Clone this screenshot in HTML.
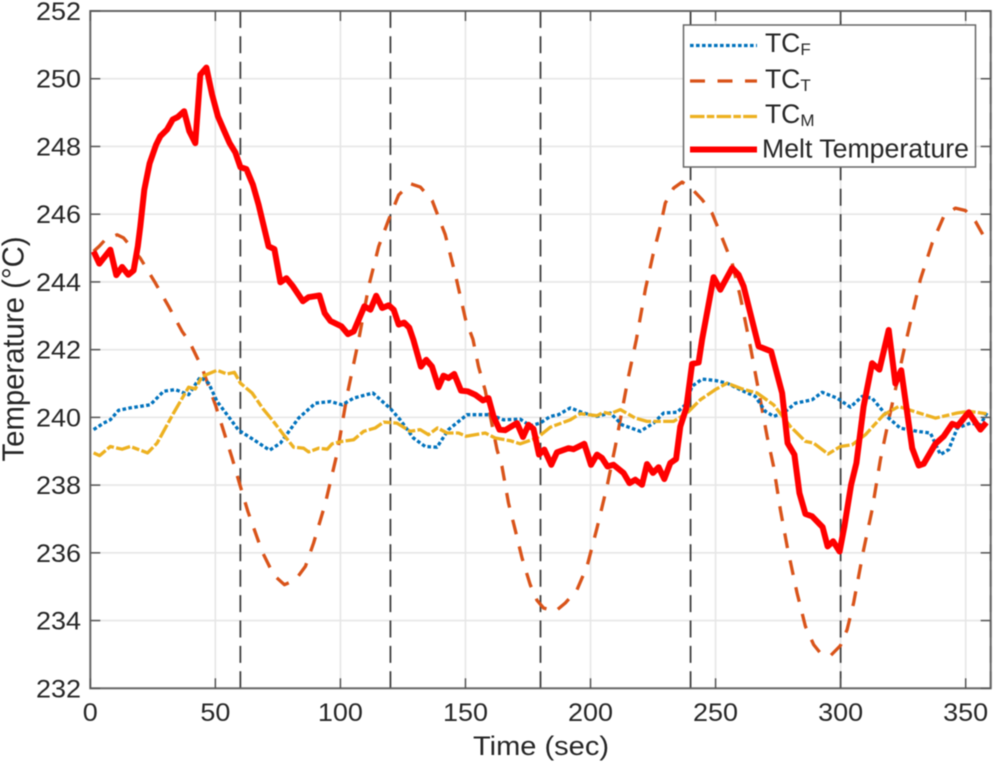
<!DOCTYPE html>
<html lang="en">
<head>
<meta charset="utf-8">
<title>Temperature over time</title>
<style>
html,body{margin:0;padding:0;background:#fff;}
svg{display:block;font-family:"Liberation Sans",Arial,sans-serif;filter:blur(0.4px);}
text{fill:#262626;}
</style>
</head>
<body>
<svg id="chart" width="993" height="764" viewBox="0 0 993 764" xmlns="http://www.w3.org/2000/svg">
  <rect x="90.3" y="11" width="900.4" height="677.3" fill="#fff"/>
  <g id="grid"></g>
  <g id="phases"></g>
  <g id="series"></g>
  <g id="axes"></g>
  <text x="541" y="755" font-size="26.5" text-anchor="middle" textLength="136" lengthAdjust="spacingAndGlyphs">Time (sec)</text>
  <text transform="translate(23.5,349) rotate(-90)" font-size="30.5" text-anchor="middle" textLength="225" lengthAdjust="spacingAndGlyphs">Temperature (°C)</text>
  <g>
    <rect x="683.5" y="25" width="292" height="142" fill="#fff" stroke="#666" stroke-width="1.5"/>
    <g>
      <line x1="690" x2="757" y1="45.5" y2="45.5" stroke="#0072BD" stroke-width="3.2" stroke-dasharray="3.6 2.4"/>
      <text x="765" y="52" font-size="26.5">TC<tspan font-size="17" dy="3">F</tspan></text>
    </g>
    <g>
      <line x1="690" x2="757" y1="81" y2="81" stroke="#D95319" stroke-width="3.3" stroke-dasharray="15 12.5"/>
      <text x="765" y="88" font-size="26.5">TC<tspan font-size="17" dy="3">T</tspan></text>
    </g>
    <g>
      <line x1="690" x2="757" y1="116.5" y2="116.5" stroke="#EDB120" stroke-width="3.3" stroke-dasharray="14.5 2.3 7.5 2.3"/>
      <text x="765" y="123" font-size="26.5">TC<tspan font-size="17" dy="3">M</tspan></text>
    </g>
    <g>
      <line x1="690" x2="757" y1="149.5" y2="149.5" stroke="#FF0000" stroke-width="6"/>
      <text x="762" y="157.5" font-size="25.5" textLength="207" lengthAdjust="spacingAndGlyphs">Melt Temperature</text>
    </g>
  </g>
</svg>
<script>
const xTicks = [0,50,100,150,200,250,300,350];
const yTicks = [232,234,236,238,240,242,244,246,248,250,252];
const phaseTimes = [60,120,180,240,300,360];

const tcfTime = [1.3,5.3,8,11.3,16,24,29.3,34,39.3,44,47.3,50.7,54.7,59.3,65.3,71.7,76,83.3,90,96,100.7,105.3,113,120,123.9,129.2,133.9,138.6,143.2,150.6,159.9,165.2,171.9,175.9,179.9,183.9,187.2,191.9,197.2,202.6,207.9,212.6,219.9,225.2,229.2,234.6,237.9,240.6,244.6,249.9,254.6,261.2,265.9,269.9,273.2,277.2,281.9,288.6,292.6,298.6,303.9,308.6,312.6,319.2,323.9,330.6,335.9,339.9,343.2,346.6,351.9,355.9,358.5];
const tcfTemp = [239.64,239.83,239.93,240.21,240.28,240.37,240.77,240.82,240.67,241.19,241.01,240.47,240.08,239.62,239.34,239.03,239.24,239.98,240.42,240.47,240.37,240.57,240.72,240.26,239.93,239.39,239.14,239.12,239.64,240.08,240.08,239.93,239.95,239.75,239.83,240.03,240.08,240.28,240.13,240.03,240.13,239.78,239.59,239.83,240.13,240.15,240.37,240.92,241.13,241.09,241.01,240.77,240.62,240.18,240.03,240.13,240.42,240.52,240.74,240.57,240.3,240.62,240.57,239.98,239.68,239.59,239.54,238.9,239.05,239.68,239.83,239.78,240.13];

const tctTime = [1.3,3.5,6,10.7,13.3,20,26,31.3,36.7,39.6,44.7,50,56.7,60,63,68.7,73.3,77.6,82,86,89.3,94,98.7,102.7,107.3,111.3,115.3,119.3,123.3,127.9,132,136.7,141.9,146,150,153,155.2,157.9,162.6,164.6,167.2,169.9,172.6,175.9,178.6,181.2,185.9,189.9,194.6,198.6,202.6,206.6,209.9,211.9,215.2,218.3,222,225,227.9,229.9,233.2,236.6,240.6,244.6,248.6,252.6,256.6,259.9,263.9,267.9,270.6,273.2,275.9,278.6,280.6,282.6,285.9,289.2,291.9,295.9,299.9,302.6,305.2,309.2,312.6,315.9,319.2,322.6,325.5,331.9,336.6,341.2,345.9,349.9,353.9,358];
const tctTemp = [244.9,245.05,245.25,245.39,245.3,244.7,243.97,243.28,242.54,242.24,241.46,240.37,238.8,237.96,237.22,236.04,235.35,235.06,235.2,235.6,236.29,237.47,238.95,240.67,242.29,243.87,245.05,245.84,246.57,246.9,246.8,246.4,245.4,244.2,242.9,242.3,241.5,240.8,239.05,238.55,237.47,236.68,235.85,235.06,234.6,234.37,234.27,234.52,234.91,235.6,236.73,237.96,239.14,239.93,241.21,242.29,243.8,244.8,245.64,246.33,246.77,246.95,246.74,246.43,246.03,245.3,244.56,243.57,242.1,240.52,239.44,238.55,237.27,236.2,235.5,234.81,233.83,233.29,233.04,232.96,233.26,233.73,234.52,236.09,237.27,238.75,239.93,241.06,242.05,244.07,245.15,245.93,246.18,246.11,245.79,245.25];

const tcmTime = [1.3,3.7,8,12.7,16,22.9,26.7,33.3,39.3,42,44.7,50.7,54.7,57.6,60,64.7,69.3,72.7,77.3,81.3,85.3,87.3,91.3,94.7,96.7,100.7,105.3,109.3,114,117.3,122.6,127.9,131.9,135.2,138.8,142.6,147.2,150.3,157.9,161.9,167.9,171.9,178.6,183.9,191.9,195.9,202.6,205.2,207.9,211.9,217.9,222.6,233.2,238.6,243.9,249.9,254.6,260.6,266.6,273.2,279.9,285.9,289.2,295,299.9,304.6,309.9,317.2,323.2,329.2,337.9,346.6,351.2,358.3];
const tcmTemp = [238.95,238.87,239.14,239.06,239.14,238.95,239.24,240.13,240.89,240.84,241.21,241.39,241.28,241.33,241.01,240.72,240.23,239.93,239.49,239.12,239.09,238.98,239.09,239.06,239.22,239.29,239.34,239.59,239.69,239.86,239.83,239.59,239.64,239.49,239.69,239.54,239.54,239.44,239.54,239.39,239.31,239.22,239.39,239.71,239.93,240.11,240.05,240.15,240.11,240.23,239.98,239.88,239.88,240.13,240.52,240.82,241.01,240.84,240.72,240.37,239.73,239.29,239.24,238.92,239.14,239.19,239.49,240.08,240.32,240.18,239.98,240.13,240.18,240.11];

const meltTime = [1.3,3.6,8,10.4,12.7,15.2,17.3,19,20,21.6,23.7,26.3,28,30.7,33,35,37.5,39.6,42,44,46.4,48.7,51,53.3,55.7,58,60,62.4,65,67.3,71.3,73.6,76,78.4,81,85,87.3,91.6,93.7,96,100.4,103,105.3,109.6,112,114.3,116.7,119.3,121.3,123.3,125.5,127.5,129.2,132.2,134.3,136.6,139.2,141.2,143.2,145.5,148.2,150.8,153.9,157,159.2,161.2,163.6,165.9,170.6,173,175.2,177.2,179.4,181.5,184.3,186.6,191.2,193.2,197.5,200.2,202.6,204.6,206.8,209.2,213.2,215.6,217.9,220.6,222.6,225,227.2,229.5,231.9,234.2,235.9,238.3,240.6,243.2,244.6,249.2,251.9,256.6,259.2,261.2,267.2,269.2,272.2,276.6,278.8,281.5,283.5,285.9,288.6,292.8,294.8,297,299.6,301.5,304.2,306.3,309.2,312.6,315.5,319.2,321.9,324.2,328.6,331.2,333.2,337.9,341.2,344.6,346.8,351.2,355.9,358.3];
const meltTemp = [244.9,244.54,244.95,244.2,244.44,244.21,244.34,245.05,245.64,246.72,247.5,248.05,248.3,248.5,248.8,248.87,249.04,248.45,248.1,250.12,250.33,249.53,248.89,248.5,248.1,247.82,247.39,247.33,246.87,246.28,245.05,244.97,243.99,244.11,243.87,243.43,243.55,243.6,243.08,242.85,242.69,242.46,242.54,243.28,243.18,243.59,243.23,243.31,243.18,242.74,242.8,242.65,242.29,241.5,241.7,241.5,240.89,241.23,241.16,241.28,240.79,240.77,240.67,240.5,240.57,240.03,239.64,239.62,239.83,239.42,239.78,239.66,238.9,239.05,238.6,238.97,239.09,239.06,239.22,238.6,238.9,238.8,238.55,238.6,238.36,238.06,238.16,238.01,238.62,238.36,238.53,238.18,238.65,238.77,239.73,240.28,241.58,241.62,242.3,244.14,243.77,244.41,244.21,243.87,242.1,242.04,241.95,240.72,239.24,238.9,237.77,237.15,237.08,236.76,236.19,236.34,236.04,236.78,238.01,238.65,240.32,241.6,241.41,242.58,241,241.39,239.09,238.58,238.63,239.22,239.44,239.81,239.75,240.15,239.64,239.85];

const SVG_NS = 'http://www.w3.org/2000/svg';
const X_MIN = 0, X_MAX = 360, Y_MIN = 232, Y_MAX = 252;
const LEFT = 90.3, RIGHT = 990.7, TOP = 11, BOTTOM = 688.3;

function xScale(v) { return LEFT + (v - X_MIN) / (X_MAX - X_MIN) * (RIGHT - LEFT); }
function yScale(v) { return BOTTOM - (v - Y_MIN) / (Y_MAX - Y_MIN) * (BOTTOM - TOP); }

function make(tag, attrs, parent) {
  const el = document.createElementNS(SVG_NS, tag);
  for (const k in attrs) el.setAttribute(k, attrs[k]);
  parent.appendChild(el);
  return el;
}

const grid = document.getElementById('grid');
const phases = document.getElementById('phases');
const seriesGroup = document.getElementById('series');
const axes = document.getElementById('axes');

xTicks.forEach(function (t) {
  if (t === X_MIN) return;
  const el = make('line', {x1: xScale(t), x2: xScale(t), y1: TOP, y2: BOTTOM, stroke: '#e6e6e6', 'stroke-width': 1.6}, grid);
  
  
});
yTicks.forEach(function (t) {
  if (t === Y_MIN || t === Y_MAX) return;
  const el = make('line', {x1: LEFT, x2: RIGHT, y1: yScale(t), y2: yScale(t), stroke: '#e6e6e6', 'stroke-width': 1.6}, grid);
  
  
});

phaseTimes.forEach(function (t) {
  const el = make('line', {x1: xScale(t), x2: xScale(t), y1: BOTTOM, y2: TOP, stroke: '#404040', 'stroke-width': 1.8, 'stroke-dasharray': '17 8.4'}, phases);
  
  
});

function drawSeries(name, times, temps, color, width, dash) {
  const pts = times.map(function (t, i) { return xScale(t).toFixed(1) + ',' + yScale(temps[i]).toFixed(1); }).join(' ');
  const attrs = {points: pts, fill: 'none', stroke: color, 'stroke-width': width, 'stroke-linejoin': 'round'};
  if (dash) attrs['stroke-dasharray'] = dash;
  const el = make('polyline', attrs, seriesGroup);
  
  
}
drawSeries('series-tct', tctTime, tctTemp, '#D95319', 3.3, '15 12.5');
drawSeries('series-tcf', tcfTime, tcfTemp, '#0072BD', 3.3, '3.6 2.4');
drawSeries('series-tcm', tcmTime, tcmTemp, '#EDB120', 3.3, '14.5 2.3 7.5 2.3');
drawSeries('series-melt-temperature', meltTime, meltTemp, '#FF0000', 6, '');

const frame = make('rect', {x: LEFT, y: TOP, width: RIGHT - LEFT, height: BOTTOM - TOP, fill: 'none', stroke: '#666', 'stroke-width': 2}, axes);



xTicks.forEach(function (t) {
  const x = xScale(t);
  const bottomTick = make('line', {x1: x, x2: x, y1: BOTTOM, y2: BOTTOM - 10, stroke: '#555', 'stroke-width': 1.5}, axes);
  
  
  const topTick = make('line', {x1: x, x2: x, y1: TOP, y2: TOP + 10, stroke: '#555', 'stroke-width': 1.5}, axes);
  
  
  const label = make('text', {x: x, y: 721, 'font-size': 25, 'text-anchor': 'middle', textLength: 15 * String(t).length, lengthAdjust: 'spacingAndGlyphs'}, axes);
  
  
  label.textContent = t;
});
yTicks.forEach(function (t) {
  const y = yScale(t);
  const leftTick = make('line', {x1: LEFT, x2: LEFT + 10, y1: y, y2: y, stroke: '#555', 'stroke-width': 1.5}, axes);
  
  
  const rightTick = make('line', {x1: RIGHT, x2: RIGHT - 10, y1: y, y2: y, stroke: '#555', 'stroke-width': 1.5}, axes);
  
  
  const label = make('text', {x: 81, y: y + 9, 'font-size': 25, 'text-anchor': 'end', textLength: 45, lengthAdjust: 'spacingAndGlyphs'}, axes);
  
  
  label.textContent = t;
});
</script>
</body>
</html>
